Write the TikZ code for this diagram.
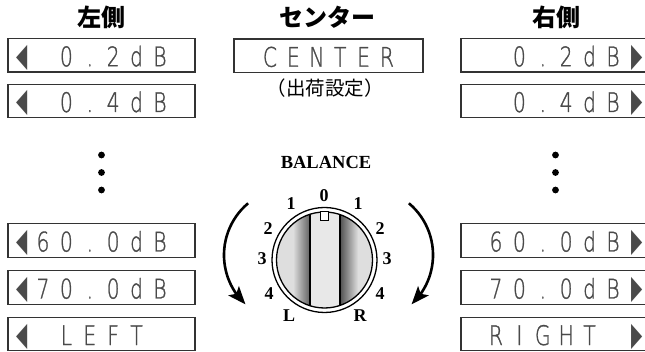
\documentclass[tikz,border=0pt]{standalone}
\usepackage{fontspec}
\usepackage{graphicx}
\setmainfont{Liberation Serif}
\newfontfamily\cjk{Noto Sans CJK JP}
\newfontfamily\lcdfont[FakeBold=1.2]{DejaVu Sans ExtraLight}
\newfontfamily\symfont{DejaVu Sans}
\usetikzlibrary{arrows.meta,bending}

% one character cell of the dot-matrix display
\newcommand\lcdcell[1]{\makebox[23.4pt]{\scalebox{0.75}[1]{#1}}}
\newcommand\lcd[8]{\lcdcell{#1}\lcdcell{#2}\lcdcell{#3}\lcdcell{#4}\lcdcell{#5}\lcdcell{#6}\lcdcell{#7}\lcdcell{#8}}
\newcommand\lefttri{\hspace*{6pt}\raisebox{0pt}[0pt][0pt]{\scalebox{0.72}[1.22]{\symfont ◀}}}
\newcommand\righttri{\hspace*{3pt}\raisebox{0pt}[0pt][0pt]{\scalebox{0.72}[1.22]{\symfont ▶}}}

\definecolor{knobface}{HTML}{DEDEDE}
\definecolor{barface}{HTML}{E8E8E8}
\definecolor{lcdink}{HTML}{4A4A4A}

\tikzset{
  lcdbox/.style={draw=black!80, line width=1.4pt, minimum width=187pt,
    minimum height=33.5pt, inner sep=0pt, text=lcdink,
    font=\lcdfont\fontsize{27}{27}\selectfont, text height=22pt, text depth=0pt},
  heading/.style={font=\cjk\bfseries\fontsize{24}{24}\selectfont, inner sep=0pt},
  note/.style={font=\cjk\fontsize{19.5}{19.5}\selectfont, inner sep=0pt},
  dial/.style={font=\bfseries\fontsize{18}{18}\selectfont, inner sep=0pt},
  arcarrow/.style={line width=2.6pt, -{Stealth[length=18pt, width=14pt, inset=4pt]}},
  dotmark/.style={fill=black}
}

\begin{document}
\begin{tikzpicture}[x=1pt, y=-1pt]
\useasboundingbox (0,0) rectangle (645,352);
\fill[white] (0,0) rectangle (645,352);

% column headings
\node[heading] (hl) at (101.5,17.5) {左側};
\node[heading] (hc) at (327,17.5) {センター};
\node[heading] (hr) at (556,17.5) {右側};

% left-hand displays
\node[lcdbox] (l1) at (101.5,55.25) {\lcd{\lefttri}{}{0}{.}{2}{d}{B}{}};
\node[lcdbox] (l2) at (101.5,101) {\lcd{\lefttri}{}{0}{.}{4}{d}{B}{}};
\node[lcdbox] (l3) at (101.5,240.5) {\lcd{\lefttri}{6}{0}{.}{0}{d}{B}{}};
\node[lcdbox] (l4) at (101.5,287.5) {\lcd{\lefttri}{7}{0}{.}{0}{d}{B}{}};
\node[lcdbox] (l5) at (101.5,334) {\lcd{\lefttri}{}{L}{E}{F}{T}{}{}};

% centre display
\node[lcdbox, minimum width=189pt] (c1) at (328.5,55.75) {\lcd{}{C}{E}{N}{T}{E}{R}{}};
\node[note] (c2) at (325,88) {（出荷設定）};

% right-hand displays
\node[lcdbox] (r1) at (554.5,55.25) {\lcd{}{}{0}{.}{2}{d}{B}{\righttri}};
\node[lcdbox] (r2) at (554.5,101) {\lcd{}{}{0}{.}{4}{d}{B}{\righttri}};
\node[lcdbox] (r3) at (554.5,240.5) {\lcd{}{6}{0}{.}{0}{d}{B}{\righttri}};
\node[lcdbox] (r4) at (554.5,287.5) {\lcd{}{7}{0}{.}{0}{d}{B}{\righttri}};
\node[lcdbox] (r5) at (554.5,334) {\lcd{}{R}{I}{G}{H}{T}{}{\righttri}};

% vertical ellipses
\foreach \yy in {155,172.5,190} {
  \fill[dotmark] (101.5,\yy) circle[radius=3.4];
  \fill[dotmark] (555.5,\yy) circle[radius=3.4];
}

% balance knob
\node[font=\bfseries\fontsize{18.5}{18.5}\selectfont, inner sep=0pt] (bal) at (326,162.5) {BALANCE};
\coordinate (K) at (324.5,260);
\fill[white] (K) circle[radius=52.5];
\begin{scope}
  \clip (K) circle[radius=48];
  \fill[knobface] (K) circle[radius=48];
  \shade[left color=knobface, right color=black!62] (293,205) rectangle (310,315);
  \shade[left color=black!68, right color=knobface] (340,205) rectangle (358,315);
  \fill[barface] (310,205) rectangle (340,315);
  \draw[line width=1.3pt] (310,205) -- (310,315) (340,205) -- (340,315);
\end{scope}
\draw[line width=1.3pt] (K) circle[radius=48];
\draw[line width=1.3pt] (K) circle[radius=52.5];
\draw[line width=1pt, fill=white] (320.5,211.5) rectangle (328.5,221);

% dial scale
\node[dial] (d0) at (324,196) {0};
\node[dial] (dl1) at (291,203.5) {1};
\node[dial] (dr1) at (358,203.5) {1};
\node[dial] (dl2) at (268,229) {2};
\node[dial] (dr2) at (380,229) {2};
\node[dial] (dl3) at (262,259) {3};
\node[dial] (dr3) at (387,259) {3};
\node[dial] (dl4) at (269,294) {4};
\node[dial] (dr4) at (380,294) {4};
\node[dial] (dL) at (289,316) {L};
\node[dial] (dR) at (360,316) {R};

% turning arrows
\draw[arcarrow] (248.1,203.3) arc[start angle=-130, end angle=-227, radius=67.5];
\draw[arcarrow] (408.9,203.3) arc[start angle=-50, end angle=47, radius=67.5];
\end{tikzpicture}
\end{document}
